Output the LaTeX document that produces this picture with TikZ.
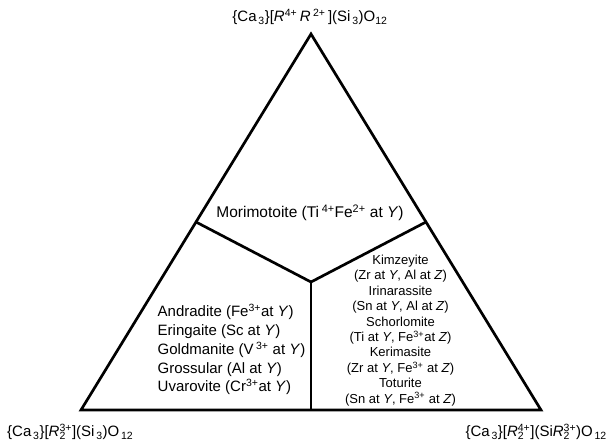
\documentclass[tikz,border=0pt]{standalone}
\usepackage{fontspec}
\setmainfont{Liberation Sans}
\usetikzlibrary{calc}
\newcommand{\sps}[1]{\textsuperscript{#1}}
\newcommand{\sbs}[1]{\textsubscript{#1}}
\newcommand{\ssbs}[1]{\hspace{0.12em}\textsubscript{#1}}
\newcommand{\supsub}[2]{\rlap{\textsubscript{#2}}\textsuperscript{#1}}
\tikzset{
  edge/.style={line width=2.7pt, line join=miter, line cap=butt},
  lbl/.style={inner sep=0pt, font=\fontsize{15}{17}\selectfont},
}
\begin{document}
\begin{tikzpicture}[x=1pt,y=-1pt]
\useasboundingbox (0,0) rectangle (608,440);
\coordinate (A) at (311,34);
\coordinate (B) at (81,410);
\coordinate (C) at (541,410);
\coordinate (O) at (311,282);
\coordinate (mAB) at ($(A)!0.5!(B)$);
\coordinate (mAC) at ($(A)!0.5!(C)$);
\coordinate (mBC) at ($(B)!0.5!(C)$);
\draw[edge] (A) -- (B) -- (C) -- cycle;
\draw[edge] (O) -- (mAB);
\draw[edge] (O) -- (mAC);
\draw[edge] (O) -- (mBC);
\node[lbl] (top) at (310,17) {\{Ca\ssbs{3}\}[\textit{R}\sps{4+}\,\textit{R}\,\sps{2+}\,](Si\ssbs{3})O\sbs{12}};
\node[lbl, anchor=west] (bl) at (7,432) {\{Ca\ssbs{3}\}[\textit{R}\supsub{3+}{2}](Si\ssbs{3})O\ssbs{12}};
\node[lbl, anchor=east] (br) at (607,432) {\{Ca\ssbs{3}\}[\textit{R}\supsub{4+}{2}](Si\textit{R}\supsub{3+}{2})O\ssbs{12}};
\node[lbl, font=\fontsize{15.5}{17}\selectfont] (mori) at (310,213) {Morimotoite (Ti\,\sps{4+}Fe\sps{2+} at \textit{Y})};
\node[lbl, font=\fontsize{15}{18.8}\selectfont, align=left] (left) at (231.5,349.5) {Andradite (Fe\sps{3+}at \textit{Y})\\Eringaite (Sc at \textit{Y})\\Goldmanite (V\,\sps{3+} at \textit{Y})\\Grossular (Al at \textit{Y})\\Uvarovite (Cr\sps{3+}at \textit{Y})};
\node[lbl, font=\fontsize{13}{15.4}\selectfont, align=center] (right) at (400.5,330.5) {Kimzeyite\\(Zr at \textit{Y}, Al at \textit{Z})\\Irinarassite\\(Sn at \textit{Y}, Al at \textit{Z})\\Schorlomite\\(Ti at \textit{Y}, Fe\sps{3+}at \textit{Z})\\Kerimasite\\(Zr at \textit{Y}, Fe\sps{3+} at \textit{Z})\\Toturite\\(Sn at \textit{Y}, Fe\sps{3+} at \textit{Z})};
\end{tikzpicture}
\end{document}
